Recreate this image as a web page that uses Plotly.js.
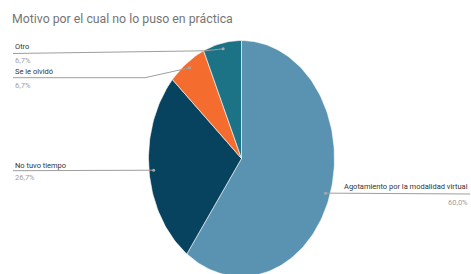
<!DOCTYPE html>
<html><head><meta charset="utf-8">
<script src="https://cdn.plot.ly/plotly-3.0.1.min.js"></script>
<style>html,body{margin:0;padding:0;background:#fff;}#chart{width:471px;height:274px;}</style>
</head><body><div id="chart"></div>
<script>
// Data
const labels = ["Agotamiento por la modalidad virtual", "No tuvo tiempo", "Se le olvidó", "Otro"];
const values = [9, 4, 1, 1];
const colors = ["#5a93b1", "#07425f", "#f46d2f", "#1d7386"];
const chartTitle = "Motivo por el cual no lo puso en práctica";

// Layout geometry (pixel-like axis units)
const cx = 241.5, cy = 158.5, rx = 93, ry = 118;
const dotR = 0.95;
// label anchor elbows for each slice (layout only)
const labelLayout = [
  {side: "right", path: [[470, 194]], tx: 470, ty: 186.5, py: 202.5},
  {side: "left", path: [[13, 170.7]], tx: 13, ty: 165, py: 177},
  {side: "left", path: [[145, 77.7], [13, 77.7]], tx: 13, ty: 71, py: 85},
  {side: "left", path: [[205, 50.8], [13, 53.5]], tx: 13, ty: 46, py: 60}
];

const total = values.reduce((a, b) => a + b, 0);
const traces = [];
const annotations = [];
let cum = 0;
function pt(angDeg, f) {
  const a = angDeg * Math.PI / 180;
  return [cx + rx * f * Math.sin(a), cy - ry * f * Math.cos(a)];
}
values.forEach((v, i) => {
  const a0 = cum / total * 360;
  cum += v;
  const a1 = cum / total * 360;
  const xs = [cx], ys = [cy];
  const n = Math.max(8, Math.ceil((a1 - a0) / 1.5));
  for (let k = 0; k <= n; k++) {
    const p = pt(a0 + (a1 - a0) * k / n, 1);
    xs.push(p[0]); ys.push(p[1]);
  }
  xs.push(cx); ys.push(cy);
  traces.push({x: xs, y: ys, type: "scatter", mode: "lines", fill: "toself",
    fillcolor: colors[i], line: {color: "#ffffff", width: 0.6}, hoverinfo: "skip", showlegend: false});
  const mid = (a0 + a1) / 2;
  const d = pt(mid, dotR);
  const L = labelLayout[i];
  const lx = [d[0]], ly = [d[1]];
  L.path.forEach(p => { lx.push(p[0]); ly.push(p[1]); });
  traces.push({x: lx, y: ly, type: "scatter", mode: "lines", line: {color: "#9e9e9e", width: 1},
    hoverinfo: "skip", showlegend: false});
  traces.push({x: [d[0]], y: [d[1]], type: "scatter", mode: "markers",
    marker: {size: 3, color: "#a8a8a8"}, hoverinfo: "skip", showlegend: false});
  const pct = (v / total * 100).toFixed(1).replace(".", ",") + "%";
  const anchor = L.side === "right" ? "right" : "left";
  annotations.push({x: L.tx, y: L.ty, xref: "x", yref: "y", text: labels[i], showarrow: false,
    xanchor: anchor, yanchor: "middle", font: {family: "Roboto, Arial, sans-serif", size: 7.5, color: "#333333"}});
  annotations.push({x: L.tx, y: L.py, xref: "x", yref: "y", text: pct, showarrow: false,
    xanchor: anchor, yanchor: "middle", font: {family: "Roboto, Arial, sans-serif", size: 7.5, color: "#a0a0a0"}});
});

const layout = {
  width: 471, height: 274,
  margin: {l: 0, r: 0, t: 0, b: 0},
  paper_bgcolor: "#ffffff", plot_bgcolor: "#ffffff",
  xaxis: {range: [0, 471], visible: false, fixedrange: true},
  yaxis: {range: [274, 0], visible: false, fixedrange: true},
  title: {text: chartTitle, x: 0, xref: "paper", xanchor: "left", y: 1, yref: "paper", yanchor: "top",
    pad: {l: 12, t: 14}, font: {family: "Roboto, Arial, sans-serif", size: 12.3, color: "#757575"}},
  annotations: annotations,
  showlegend: false
};
Plotly.newPlot("chart", traces, layout, {staticPlot: true, displayModeBar: false});
</script></body></html>
